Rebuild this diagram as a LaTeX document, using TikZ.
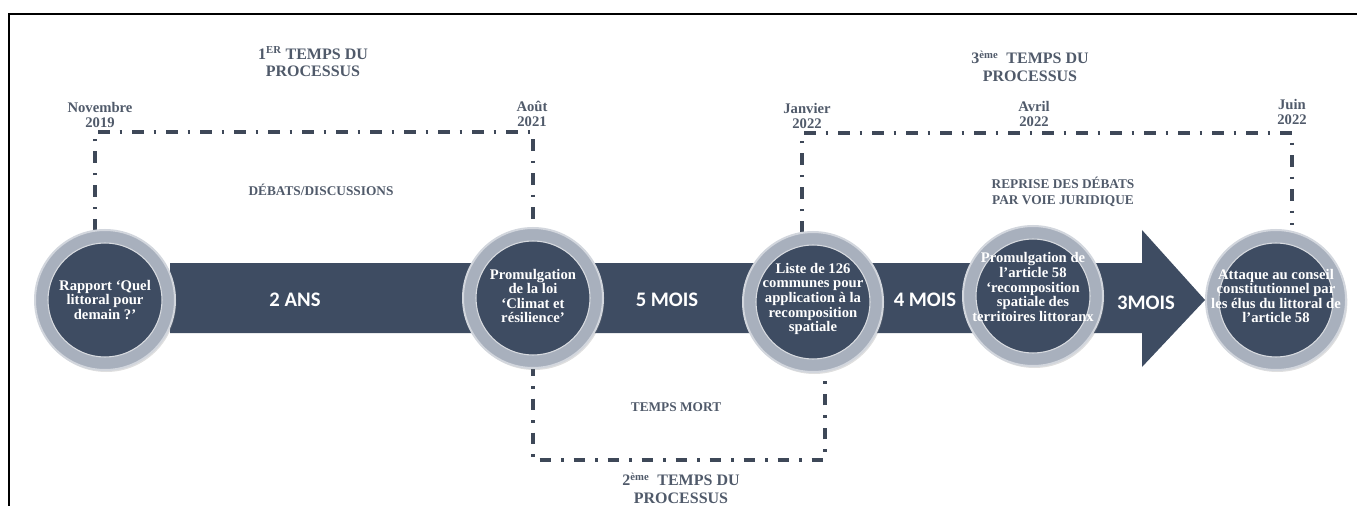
\documentclass[tikz,border=0pt]{standalone}
\usepackage{fontspec}
\setmainfont{Liberation Serif}
\newfontfamily\barfont{Carlito}
\usetikzlibrary{positioning,shadows}
\definecolor{slate}{RGB}{62,76,98}
\definecolor{ringGrey}{RGB}{168,176,189}
\definecolor{ringEdge}{RGB}{210,214,221}
\definecolor{labelGrey}{RGB}{80,90,106}
\definecolor{phaseLine}{RGB}{62,72,88}

\begin{document}
\begin{tikzpicture}[x=0.75pt,y=-0.75pt,
  ring/.style={circle,fill=ringGrey,draw=ringEdge,line width=1.5pt,minimum size=105pt,inner sep=0pt,
    drop shadow={shadow xshift=1pt,shadow yshift=-1.5pt,opacity=0.25}},
  core/.style={circle,fill=slate,draw=white!80!slate,line width=0.8pt,minimum size=85.5pt,inner sep=0pt},
  coretext/.style={text=white,align=center,inner sep=0pt,font=\fontsize{11}{10.9}\selectfont\bfseries},
  phase/.style={phaseLine,line width=2.5pt,dash pattern=on 8.5pt off 7.5pt on 2pt off 7.5pt},
  head/.style={text=labelGrey,align=center,font=\fontsize{12}{13}\selectfont\bfseries},
  datelbl/.style={text=labelGrey,align=center,font=\fontsize{11}{11}\selectfont\bfseries},
  note/.style={text=labelGrey,align=center,font=\fontsize{10}{12}\selectfont\bfseries},
  span/.style={text=white,font=\barfont\fontsize{15.5}{16}\selectfont\bfseries}]
  \useasboundingbox (0,0) rectangle (1357,506);
  % frame
  \draw[line width=1.1pt] (1357,14) -- (9,14) -- (9,506);
  % timeline bar with arrow head
  \fill[slate] (170,263) -- (1142,263) -- (1142,230) -- (1205,300) -- (1142,367)
    -- (1142,333) -- (170,333) -- cycle;
  % placeholders for the circles, so the phase lines can reach them
  \foreach \n/\x/\y in {c1/105/300,c2/533/298,c3/813/302,c4/1033/296,c5/1276/300}
    \coordinate (\n) at (\x,\y);
  % the three phases of the process
  \coordinate (top1) at (313,132);
  \coordinate (bot2) at (676,460);
  \coordinate (top3) at (1050,133);
  \draw[phase] ([xshift=-7.5pt,yshift=52pt]c1) |- (top1) -| ([yshift=51pt]c2);
  \draw[phase] ([yshift=-50pt]c2) |- (bot2) -| ([xshift=9pt,yshift=-51pt]c3);
  \draw[phase] ([xshift=-8.25pt,yshift=52pt]c3) |- (top3) -| ([xshift=12pt,yshift=56pt]c5);
  % milestones
  \foreach \n/\ty/\t in {c1/0/{Rapport ‘Quel\\littoral pour\\demain ?’},
      c2/-2/{Promulgation\\de la loi\\‘Climat et\\résilience’},
      c3/-3/{Liste de 126\\communes pour\\application à la\\recomposition\\spatiale},
      c4/-9/{Promulgation de\\l’article 58\\‘recomposition\\spatiale des\\territoires littoranx},
      c5/-4/{Attaque au conseil\\constitutionnel par\\les élus du littoral de\\l’article 58}}{
    \node[ring] (\n-ring) at (\n) {};
    \node[core] (\n-core) at (\n) {};
    \node[coretext] (\n-text) at ([yshift=-\ty*0.75pt]\n) {\t};
  }
  % durations on the bar
  \node[span] (d12) at (295,300) {2 ANS};
  \node[span] (d23) at (667,300) {5 MOIS};
  \node[span] (d34) at (925,300) {4 MOIS};
  \node[span] (d45) at (1146,303) {3MOIS};
  % dates
  \node[datelbl] (t1) at (100,115) {Novembre\\2019};
  \node[datelbl] (t2) at (532,114) {Août\\2021};
  \node[datelbl] (t3) at (807,116) {Janvier\\2022};
  \node[datelbl] (t4) at (1034,114) {Avril\\2022};
  \node[datelbl] (t5) at (1292,112) {Juin\\2022};
  % phase titles
  \node[head] (p1) at (313,62) {1\textsuperscript{ER} TEMPS DU\\PROCESSUS};
  \node[head] (p2) at (681,488) {2\textsuperscript{ème}\ \ TEMPS DU\\PROCESSUS};
  \node[head] (p3) at (1030,66) {3\textsuperscript{ème}\ \ TEMPS DU\\PROCESSUS};
  \node[note] (n1) at (321,190) {DÉBATS/DISCUSSIONS};
  \node[note] (n2) at (676,407) {TEMPS MORT};
  \node[note] (n3) at (1063,192) {REPRISE DES DÉBATS\\PAR VOIE JURIDIQUE};
\end{tikzpicture}
\end{document}
